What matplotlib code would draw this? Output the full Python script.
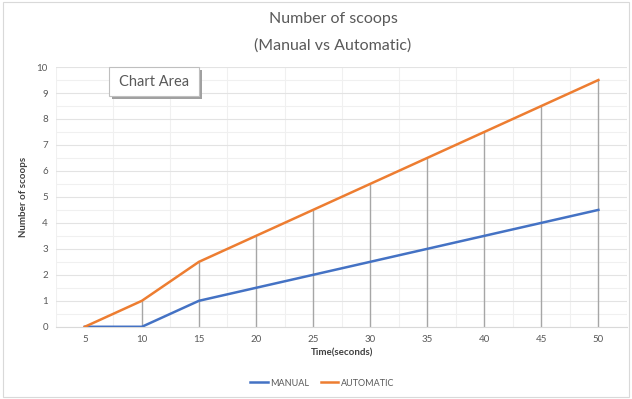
import numpy as np
import matplotlib
matplotlib.use('Agg')
import matplotlib.pyplot as plt
from matplotlib.patches import Rectangle

times = [5, 10, 15, 20, 25, 30, 35, 40, 45, 50]
manual = [0, 0, 1, 1.5, 2, 2.5, 3, 3.5, 4, 4.5]
automatic = [0, 1, 2.5, 3.5, 4.5, 5.5, 6.5, 7.5, 8.5, 9.5]

plt.rcParams['font.family'] = ['Lato', 'DejaVu Sans']
grey = '#595959'

fig = plt.figure(figsize=(6.32, 3.99), dpi=100)
ax = fig.add_axes([0.089, 0.181, 0.903, 0.651])

x = np.arange(len(times))
# drop lines
top = np.maximum(manual, automatic)
ax.vlines(x, 0, top, color='#a6a6a6', lw=1.0, zorder=2)

ax.plot(x, manual, color='#4472c4', lw=1.8, zorder=3, label='MANUAL')
ax.plot(x, automatic, color='#ed7d31', lw=1.8, zorder=3, label='AUTOMATIC')

ax.set_xlim(-0.5, len(times) - 0.5)
ax.set_ylim(0, 10)
ax.set_xticks(x)
ax.set_xticklabels([str(t) for t in times])
ax.set_yticks(range(11))
ax.set_xticks(np.arange(-0.5, len(times), 0.5), minor=True)
ax.set_yticks(np.arange(0, 10.01, 0.5), minor=True)
ax.grid(which='major', axis='y', color='#e3e3e3', lw=0.8, zorder=0)
ax.grid(which='minor', color='#f0f0f0', lw=0.8, zorder=0)
ax.set_axisbelow(True)

ax.tick_params(axis='both', which='both', length=0, labelsize=7, colors=grey, pad=6)
ax.tick_params(axis='x', pad=6)
for s in ['top', 'right', 'left']:
    ax.spines[s].set_visible(False)
ax.spines['bottom'].set_color('#d9d9d9')

ax.set_xlabel('Time(seconds)', fontsize=7, fontweight='bold', color='#404040', labelpad=3)
ax.set_ylabel('Number of scoops', fontsize=7, fontweight='bold', color='#404040', labelpad=6)

fig.text(0.527, 0.953, 'Number of scoops', ha='center', va='center', fontsize=11.5, color=grey)
fig.text(0.527, 0.886, '(Manual vs Automatic)', ha='center', va='center', fontsize=11.5, color=grey)

fig.legend(loc='center', bbox_to_anchor=(0.51, 0.04), ncol=2, frameon=False,
           fontsize=6.5, handlelength=1.9, handletextpad=0.3, columnspacing=1.3,
           labelcolor=grey)

# tooltip box
fig.patches.append(Rectangle((112 / 632, 1 - 99 / 399), 90 / 632, 29 / 399,
                             transform=fig.transFigure, facecolor='#a0a0a0',
                             edgecolor='none', zorder=5))
fig.patches.append(Rectangle((109 / 632, 1 - 96 / 399), 90 / 632, 29 / 399,
                             transform=fig.transFigure, facecolor='white',
                             edgecolor='#bfbfbf', lw=0.8, zorder=6))
fig.text(154 / 632, 1 - 82 / 399, 'Chart Area', ha='center', va='center',
         fontsize=10.5, color=grey, zorder=7)

# outer border
fig.patches.append(Rectangle((0.004, 0.004), 0.992, 0.992, transform=fig.transFigure,
                             facecolor='none', edgecolor='#d9d9d9', lw=0.8))

plt.savefig('out.png', dpi=100)
